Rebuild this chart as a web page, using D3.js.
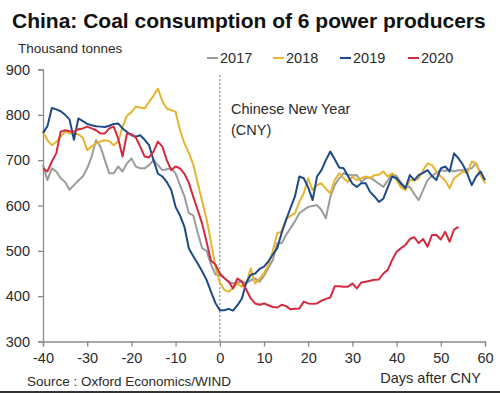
<!DOCTYPE html>
<html>
<head>
<meta charset="utf-8">
<script src="https://cdn.jsdelivr.net/npm/d3@7"></script>
<style>
    body { margin: 0; background: #fff; }
    svg { display: block; font-family: "Liberation Sans", Arial, sans-serif; }
</style>
</head>
<body>
<div id="chart"></div>
<script>
// days relative to Chinese New Year
const days_full = d3.range(-40, 61);
const days_2020 = d3.range(-40, 55);

const years = ["2017", "2018", "2019", "2020"];
const year_colors = ["#9b9b9b", "#e5b531", "#1e4a88", "#d42a3e"];

const y_ticks = [300, 400, 500, 600, 700, 800, 900];
const x_ticks = [-40, -30, -20, -10, 0, 10, 20, 30, 40, 50, 60];

const values_2017 = [690, 656, 682, 675, 660, 652, 635, 645, 655, 664, 682, 708, 744, 730, 700, 671, 671, 686, 675, 693,
    704, 686, 682, 682, 689, 700, 689, 678, 680, 682, 671, 645, 620, 583, 578, 540, 506, 500, 470, 448,
    447, 440, 432, 428, 430, 432, 428, 435, 439, 432, 445, 462, 480, 517, 517, 535, 550, 565, 583, 590,
    597, 599, 601, 590, 572, 619, 645, 660, 671, 668, 667, 667, 652, 660, 662, 655, 648, 641, 655, 670,
    665, 650, 641, 641, 625, 612, 634, 656, 665, 672, 678, 676, 678, 675, 678, 678, 680, 682, 693, 671, 656];

const values_2018 = [763, 744, 733, 740, 752, 763, 759, 759, 757, 750, 722, 730, 737, 741, 744, 742, 733, 741, 774, 798,
    806, 818, 816, 814, 829, 842, 858, 830, 814, 810, 807, 766, 737, 716, 690, 650, 610, 570, 520, 465,
    430, 414, 410, 418, 428, 421, 428, 461, 428, 439, 450, 468, 500, 539, 542, 570, 577, 583, 608, 627,
    660, 634, 645, 649, 637, 627, 656, 671, 660, 652, 664, 656, 660, 664, 660, 667, 668, 675, 664, 671,
    656, 640, 634, 656, 655, 660, 678, 693, 689, 675, 664, 655, 638, 660, 667, 675, 672, 697, 693, 667, 649];

const values_2019 = [760, 775, 815, 812, 808, 800, 790, 745, 792, 786, 780, 777, 775, 774, 773, 776, 780, 781, 770, 762,
    755, 752, 755, 745, 733, 700, 670, 664, 652, 635, 597, 578, 553, 505, 488, 472, 455, 436, 410, 385,
    369, 369, 372, 368, 380, 395, 430, 447, 450, 460, 465, 477, 492, 506, 540, 568, 595, 620, 664, 660,
    640, 612, 664, 678, 700, 719, 702, 684, 682, 665, 648, 641, 649, 649, 630, 620, 608, 615, 640, 664,
    660, 648, 638, 667, 656, 667, 672, 678, 665, 656, 682, 686, 675, 715, 704, 690, 670, 645, 664, 675, 656];

const values_2020 = [682, 675, 697, 715, 763, 766, 764, 763, 768, 770, 774, 770, 766, 759, 759, 770, 774, 748, 708, 759,
    757, 750, 730, 708, 706, 719, 741, 730, 700, 678, 686, 682, 670, 650, 619, 590, 560, 520, 478, 470,
    450, 440, 432, 417, 439, 432, 414, 395, 384, 381, 384, 380, 376, 375, 381, 378, 371, 372, 373, 388,
    384, 383, 384, 390, 394, 397, 422, 422, 421, 421, 428, 417, 430, 432, 434, 436, 437, 450, 458, 480,
    498, 506, 513, 526, 530, 517, 526, 509, 535, 535, 525, 542, 520, 547, 553];

const series = [
    {year: "2017", days: days_full, values: values_2017},
    {year: "2018", days: days_full, values: values_2018},
    {year: "2019", days: days_full, values: values_2019},
    {year: "2020", days: days_2020, values: values_2020}
];

const width = 500;
const height = 393;
const margin_left = 43;
const margin_right = 15;
const margin_top = 69.5;
const margin_bottom = 51.5;
const axis_color = "#8a8a8a";
const text_color = "#2b2b2b";

const svg = d3.select("#chart").append("svg")
    .attr("width", width)
    .attr("height", height);

const x_scale = d3.scaleLinear()
    .domain([-40, 60])
    .range([margin_left, width - margin_right]);

const y_scale = d3.scaleLinear()
    .domain([300, 900])
    .range([height - margin_bottom, margin_top]);

const color = d3.scaleOrdinal().domain(years).range(year_colors);

// title
svg.append("text")
    .attr("x", 12)
    .attr("y", 28)
    .attr("font-size", 21)
    .attr("font-weight", "bold")
    .attr("fill", "#111")
    .text("China: Coal consumption of 6 power producers");

svg.append("text")
    .attr("x", 18)
    .attr("y", 53)
    .attr("font-size", 13.5)
    .attr("fill", text_color)
    .text("Thousand tonnes");

// legend
const legend_x = [207, 273, 340, 408];
const legend = svg.append("g")
    .selectAll("g")
    .data(years)
    .join("g")
    .attr("transform", (d, i) => `translate(${legend_x[i]},58)`);
legend.append("line")
    .attr("x1", 0).attr("x2", 11)
    .attr("y1", 0).attr("y2", 0)
    .attr("stroke", d => color(d))
    .attr("stroke-width", 2);
legend.append("text")
    .attr("x", 13)
    .attr("y", 5)
    .attr("font-size", 14.5)
    .attr("fill", text_color)
    .text(d => d);

// axes
const y_axis = svg.append("g")
    .attr("transform", `translate(${margin_left},0)`)
    .call(d3.axisLeft(y_scale).tickValues(y_ticks).tickSize(5).tickPadding(8));

const x_axis = svg.append("g")
    .attr("transform", `translate(0,${height - margin_bottom})`)
    .call(d3.axisBottom(x_scale).tickValues(x_ticks).tickFormat(d => String(d)).tickSize(5).tickPadding(6));

[x_axis, y_axis].forEach(function (axis) {
    axis.select(".domain").attr("stroke", axis_color).attr("stroke-width", 1.3);
    axis.selectAll(".tick line").attr("stroke", axis_color).attr("stroke-width", 1.3);
    axis.selectAll(".tick text")
        .attr("font-size", 14.5)
        .attr("fill", text_color)
        .attr("font-family", "Liberation Sans, Arial, sans-serif");
});

// CNY marker
svg.append("line")
    .attr("x1", x_scale(0)).attr("x2", x_scale(0))
    .attr("y1", 75).attr("y2", height - margin_bottom)
    .attr("stroke", "#8c8c8c")
    .attr("stroke-width", 1.2)
    .attr("stroke-dasharray", "2,2");

svg.append("text")
    .attr("x", 231)
    .attr("y", 114)
    .attr("font-size", 14.5)
    .attr("fill", text_color)
    .text("Chinese New Year");
svg.append("text")
    .attr("x", 231)
    .attr("y", 135)
    .attr("font-size", 14.5)
    .attr("fill", text_color)
    .text("(CNY)");

// lines
const line = d3.line()
    .x(d => x_scale(d[0]))
    .y(d => y_scale(d[1]));

svg.append("g")
    .selectAll("path")
    .data(series)
    .join("path")
    .attr("fill", "none")
    .attr("stroke", d => color(d.year))
    .attr("stroke-width", 2)
    .attr("stroke-linejoin", "round")
    .attr("d", d => line(d.days.map((day, i) => [day, d.values[i]])));

// footer
svg.append("text")
    .attr("x", 27)
    .attr("y", 386)
    .attr("font-size", 13.5)
    .attr("fill", text_color)
    .text("Source : Oxford Economics/WIND");

svg.append("text")
    .attr("x", 481)
    .attr("y", 383)
    .attr("text-anchor", "end")
    .attr("font-size", 14.5)
    .attr("fill", text_color)
    .text("Days after CNY");

svg.append("rect")
    .attr("x", 0).attr("y", 391)
    .attr("width", width).attr("height", 2)
    .attr("fill", "#333");
</script>
</body>
</html>
